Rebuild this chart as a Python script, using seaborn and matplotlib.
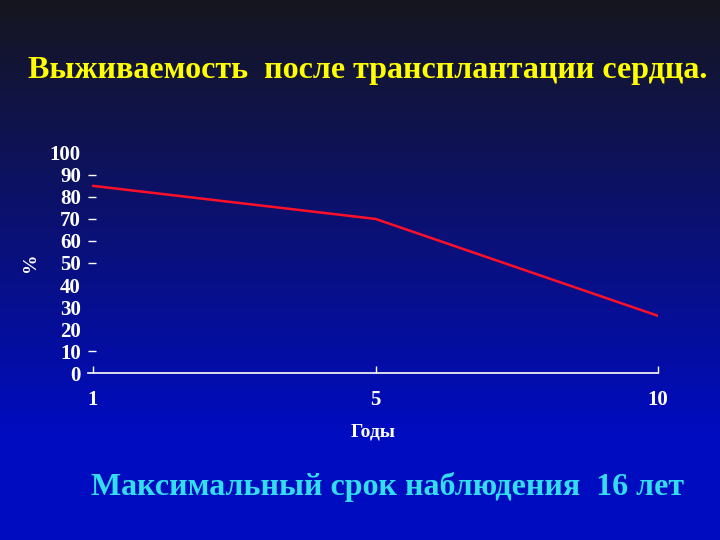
import numpy as np
import pandas as pd
import matplotlib
matplotlib.use('Agg')
import matplotlib.pyplot as plt
import seaborn as sns

# данные
years = ['1', '5', '10']
survival = [85, 70, 26]
y_ticks = [0, 10, 20, 30, 40, 50, 60, 70, 80, 90, 100]
y_dash = [10, 50, 60, 70, 80, 90]

title = 'Выживаемость  после трансплантации сердца.'
footer = 'Максимальный срок наблюдения  16 лет'

sns.set_style('white')
plt.rcParams['font.family'] = ['Liberation Serif', 'DejaVu Serif']
plt.rcParams['font.weight'] = 'bold'

fig = plt.figure(figsize=(7.2, 5.4), dpi=100)

# фон с градиентом
bg = fig.add_axes([0, 0, 1, 1], zorder=-10)
t = np.clip(np.linspace(0, 1, 540) / 0.8, 0, 1)
top = np.array([0x16, 0x16, 0x1e]) / 255
bottom = np.array([0x00, 0x0c, 0xc0]) / 255
grad = top[None, :] * (1 - t[:, None]) + bottom[None, :] * t[:, None]
bg.imshow(np.repeat(grad[:, None, :], 10, axis=1), aspect='auto', extent=[0, 1, 0, 1])
bg.axis('off')

ax = fig.add_axes([0.122, 0.309, 0.792, 0.408])
ax.patch.set_alpha(0)
df = pd.DataFrame({'Годы': years, '%': survival})
sns.lineplot(data=df, x='Годы', y='%', sort=False, color='#ff1028', lw=1.8, ax=ax)

ax.set_xlim(-0.018, 2)
ax.set_ylim(0, 100)
ax.set_yticks(y_ticks)
ax.set_yticks(y_dash, minor=True)
ax.yaxis.remove_overlapping_locs = False
ax.tick_params(axis='y', which='major', left=True, length=0, pad=5, labelsize=15,
               labelcolor='white')
ax.tick_params(axis='y', which='minor', left=True, length=6, width=1, color='white',
               direction='in')
ax.tick_params(axis='x', bottom=True, length=5, width=1, color='white', direction='in',
               pad=12, labelsize=15, labelcolor='white')
for s in ['top', 'right', 'left']:
    ax.spines[s].set_visible(False)
ax.spines['bottom'].set_color('white')
ax.spines['bottom'].set_linewidth(1.2)

ax.set_xlabel('Годы', color='white', fontsize=14, fontweight='bold', labelpad=10)
ax.set_ylabel('%', color='white', fontsize=14, fontweight='bold')
ax.yaxis.set_label_coords(-0.085, 0.505)

fig.text(0.511, 0.870, title, color='#ffff00', fontsize=23, fontweight='bold',
         ha='center', va='center')
fig.text(0.538, 0.098, footer, color='#33ddf0', fontsize=23, fontweight='bold',
         ha='center', va='center')

fig.savefig('out.png', dpi=100)
